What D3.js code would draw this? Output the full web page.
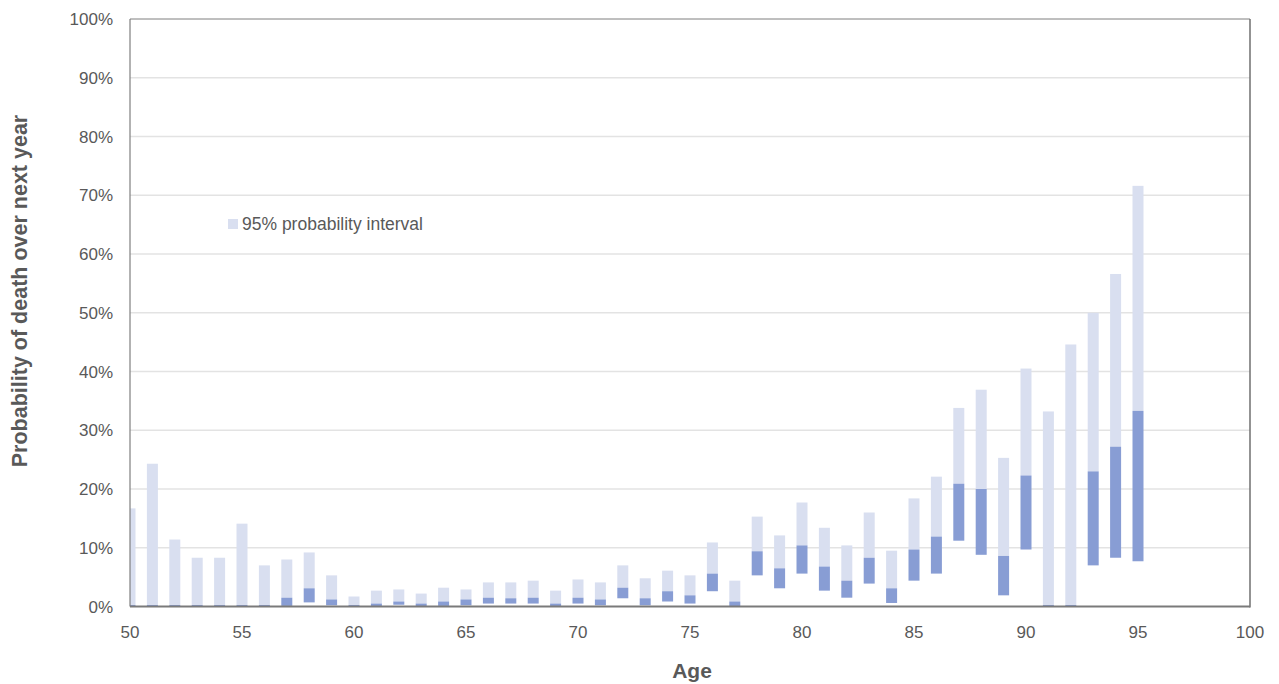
<!DOCTYPE html>
<html><head><meta charset="utf-8">
<script src="https://cdn.jsdelivr.net/npm/d3@7"></script>
<style>body{margin:0;background:#fff;} text{font-family:"Liberation Sans",Arial,sans-serif;}</style>
</head><body>
<svg id="c" width="1279" height="684"></svg>
<script>
const ages = d3.range(50, 96);
// lower bound, mid split, upper bound (percent)
const lower = [0,0,0,0,0,0,0,0.1,0.7,0.2,0,0,0.3,0,0.1,0.2,0.5,0.5,0.5,0,0.5,0.2,1.4,0.2,0.85,0.5,2.6,0,5.3,3.1,5.6,2.7,1.5,3.9,0.6,4.4,5.6,11.2,8.8,1.9,9.7,0,0,7.0,8.3,7.7];
const mid =   [0.25,0.25,0.25,0.25,0.25,0.25,0.25,1.5,3.1,1.2,0.25,0.5,0.85,0.5,0.85,1.2,1.5,1.4,1.5,0.5,1.5,1.2,3.2,1.4,2.6,1.9,5.6,0.85,9.4,6.5,10.4,6.8,4.4,8.3,3.1,9.7,11.9,20.9,20.0,8.6,22.3,0.25,0.25,23.0,27.2,33.3];
const upper = [16.7,24.3,11.4,8.3,8.3,14.1,7.0,8.0,9.2,5.3,1.7,2.7,2.9,2.2,3.2,2.9,4.1,4.1,4.4,2.7,4.6,4.1,7.0,4.8,6.1,5.3,10.9,4.4,15.3,12.1,17.7,13.4,10.4,16.0,9.5,18.4,22.1,33.8,36.9,25.3,40.5,33.2,44.6,50.0,56.6,71.6];
const yTicks = d3.range(0, 101, 10);
const xTicks = d3.range(50, 101, 5);

const svg = d3.select("#c");
const L = 130, R = 1250, T = 19, B = 606.5;
const x = d3.scaleLinear().domain([50, 100]).range([L, R]);
const y = d3.scaleLinear().domain([0, 100]).range([B, T]);
const textCol = "#595959";

svg.append("defs").append("clipPath").attr("id","pc")
  .append("rect").attr("x", L).attr("y", T).attr("width", R-L).attr("height", B-T+3);

// gridlines
svg.append("g").selectAll("line").data(yTicks.filter(d=>d>0 && d<100)).join("line")
  .attr("x1", L).attr("x2", R).attr("y1", d=>y(d)).attr("y2", d=>y(d))
  .attr("stroke", "#e3e3e3").attr("stroke-width", 1.5);

const data = ages.map((a,i)=>({a, lo: lower[i], mid: mid[i], hi: upper[i]}));
const bw = 11;
const g = svg.append("g").attr("clip-path","url(#pc)");
g.selectAll("rect.l").data(data).join("rect").attr("class","l")
  .attr("x", d=>x(d.a)-bw/2).attr("width", bw)
  .attr("y", d=>y(d.hi)).attr("height", d=>y(d.mid)-y(d.hi))
  .attr("fill", "#d9dff0");
g.selectAll("rect.d").data(data).join("rect").attr("class","d")
  .attr("x", d=>x(d.a)-bw/2).attr("width", bw)
  .attr("y", d=>y(d.mid)).attr("height", d=>Math.max(1.5, y(d.lo)-y(d.mid)))
  .attr("fill", "#889dd4");

// frame
svg.append("line").attr("x1",L).attr("x2",R).attr("y1",T).attr("y2",T).attr("stroke","#7f7f7f").attr("stroke-width",1);
svg.append("line").attr("x1",L).attr("x2",L).attr("y1",T).attr("y2",B).attr("stroke","#7f7f7f").attr("stroke-width",1.2);
svg.append("line").attr("x1",R).attr("x2",R).attr("y1",T).attr("y2",B+1).attr("stroke","#6f6f6f").attr("stroke-width",1.5);
svg.append("line").attr("x1",L).attr("x2",R).attr("y1",B).attr("y2",B).attr("stroke","#7a7a7a").attr("stroke-width",2);

// y axis labels
svg.append("g").selectAll("text").data(yTicks).join("text")
  .attr("x", 113).attr("y", d=>y(d)).attr("dy","0.36em").attr("text-anchor","end")
  .attr("font-size", 17).attr("fill", textCol).text(d=>d+"%");
// x axis labels
svg.append("g").selectAll("text").data(xTicks).join("text")
  .attr("x", d=>x(d)).attr("y", 632).attr("dy","0.36em").attr("text-anchor","middle")
  .attr("font-size", 17).attr("fill", textCol).text(d=>d);

svg.append("text").attr("x", 692).attr("y", 678).attr("text-anchor","middle")
  .attr("font-size", 21).attr("font-weight","bold").attr("fill", textCol).text("Age");
svg.append("text").attr("transform","translate(27,291) rotate(-90)").attr("text-anchor","middle")
  .attr("font-size", 21.5).attr("font-weight","bold").attr("fill", textCol).text("Probability of death over next year");

// legend
svg.append("rect").attr("x", 228).attr("y", 219).attr("width", 10).attr("height", 10).attr("fill","#d9dff0");
svg.append("text").attr("x", 242).attr("y", 224).attr("dy","0.36em").attr("font-size", 17.5).attr("fill", textCol).text("95% probability interval");
</script>
</body></html>
